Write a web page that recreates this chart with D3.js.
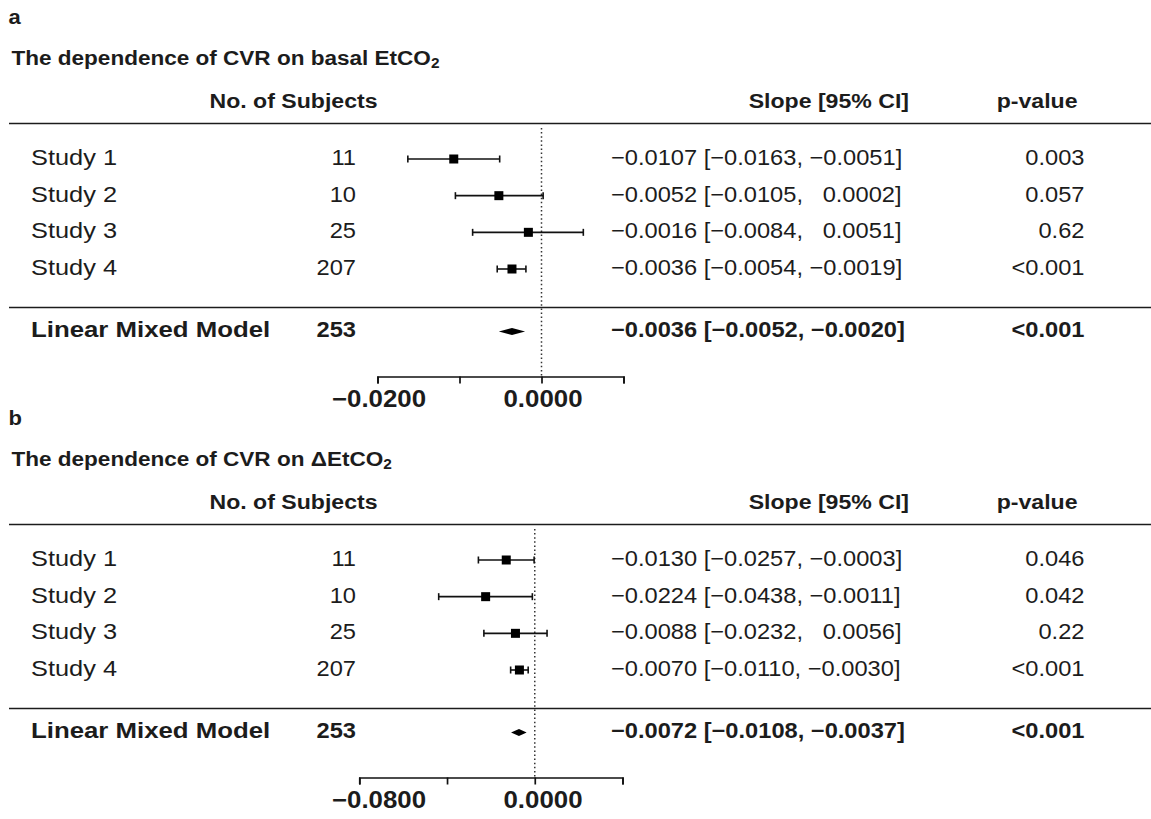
<!DOCTYPE html>
<html>
<head>
<meta charset="utf-8"/>
<script src="https://d3js.org/d3.v7.min.js"></script>
<style>
  body { margin: 0; background: #fff; }
  text { font-family: "Liberation Sans", Arial, sans-serif; fill: #1c1c1c; white-space: pre; }
</style>
</head>
<body>
<svg id="chart" width="1151" height="819"></svg>
<script>
// ---- data ----
let studies = ["Study 1", "Study 2", "Study 3", "Study 4"];
let nSubjects = [11, 10, 25, 207];

// panel a: CVR vs basal EtCO2
let slopeA = [-0.0107, -0.0052, -0.0016, -0.0036];
let lowA   = [-0.0163, -0.0105, -0.0084, -0.0054];
let highA  = [-0.0051,  0.0002,  0.0051, -0.0019];
let pA     = ["0.003", "0.057", "0.62", "<0.001"];
let pooledA = [-0.0036, -0.0052, -0.0020];   // estimate, low, high
let pooledPA = "<0.001";
let ticksA = [-0.02, -0.01, 0, 0.01];
let tickLabelsA = [-0.02, 0];

// panel b: CVR vs delta EtCO2
let slopeB = [-0.0130, -0.0224, -0.0088, -0.0070];
let lowB   = [-0.0257, -0.0438, -0.0232, -0.0110];
let highB  = [-0.0003, -0.0011,  0.0056, -0.0030];
let pB     = ["0.046", "0.042", "0.22", "<0.001"];
let pooledB = [-0.0072, -0.0108, -0.0037];
let pooledPB = "<0.001";
let ticksB = [-0.08, -0.04, 0, 0.04];

let pooledLabel = "Linear Mixed Model";
let pooledN = 253;

// ---- drawing ----
let svg = d3.select("#chart");
let SX = 1.1;  // the original text is a bit wide
let f4 = d3.format(".4f");
function num(v) { return v < 0 ? f4(v) : "  " + f4(v); }

function addText(g, x, y, str, size, bold, anchor, sx) {
    return g.append("text")
        .attr("transform", "translate(" + x + "," + y + ") scale(" + (sx || SX) + ",1)")
        .attr("text-anchor", anchor || "start")
        .style("font-size", size + "px")
        .style("font-weight", bold ? "bold" : "normal")
        .text(str);
}

// x positions of the axis labels are shared by both panels (as in the original)
let xA = d3.scaleLinear().domain([-0.02, 0.01]).range([377.5, 623.5]);
let xB = d3.scaleLinear().domain([-0.08, 0.04]).range([359.3, 622.5]);
let labelX = tickLabelsA.map(v => xA(v));
let labelText = [["\u22120.0200", "0.0000"], ["\u22120.0800", "0.0000"]];

function panel(dy, letter, titleMain, x, slope, low, high, p, pooled, pooledP, ticks, labels) {
    let g = svg.append("g").attr("transform", "translate(0," + dy + ")");
    let yRow = d3.scaleLinear().domain([0, 3]).range([165, 275]);
    let yPool = 336.5;
    let mark = -6;
    let fs = 21.5;

    addText(g, 8.5, 24, letter, 20, true);
    let t = addText(g, 11.5, 65, titleMain, 20.5, true);
    t.append("tspan").text("2").style("font-size", "14px").attr("dy", 3);

    addText(g, 377.5, 108, "No. of Subjects", 21, true, "end");
    addText(g, 909, 108, "Slope [95% CI]", 21, true, "end");
    addText(g, 1077.5, 108, "p-value", 21, true, "end");

    g.append("line").attr("x1", 9).attr("x2", 1151).attr("y1", 123.5).attr("y2", 123.5)
        .style("stroke", "#1c1c1c").style("stroke-width", 1.7);
    g.append("line").attr("x1", 9).attr("x2", 1151).attr("y1", 307.5).attr("y2", 307.5)
        .style("stroke", "#1c1c1c").style("stroke-width", 1.7);

    // reference line at zero
    g.append("line").attr("x1", x(0)).attr("x2", x(0)).attr("y1", 128).attr("y2", 376.5)
        .style("stroke", "#333").style("stroke-width", 1.5).style("stroke-dasharray", "1.5 2.6");

    // study rows
    studies.forEach((s, i) => {
        let by = yRow(i);
        let cy = by + mark;
        addText(g, 31, by, s, fs, false, "start", 1.18);
        addText(g, 356, by, String(nSubjects[i]), fs, false, "end");
        addText(g, 611, by, num(slope[i]) + " [" + num(low[i]) + ", " + num(high[i]) + "]", fs, false);
        addText(g, 1084.5, by, p[i], fs, false, "end");

        g.append("line").attr("x1", x(low[i])).attr("x2", x(high[i])).attr("y1", cy).attr("y2", cy)
            .style("stroke", "#111").style("stroke-width", 1.6);
        [low[i], high[i]].forEach(v => {
            g.append("line").attr("x1", x(v)).attr("x2", x(v)).attr("y1", cy - 3.5).attr("y2", cy + 3.5)
                .style("stroke", "#111").style("stroke-width", 1.6);
        });
        g.append("rect").attr("x", x(slope[i]) - 4.5).attr("y", cy - 4.5)
            .attr("width", 9).attr("height", 9).style("fill", "#000");
    });

    // pooled row
    addText(g, 31, yPool, pooledLabel, fs, true, "start", 1.2);
    addText(g, 356, yPool, String(pooledN), fs, true, "end");
    addText(g, 611, yPool, num(pooled[0]) + " [" + num(pooled[1]) + ", " + num(pooled[2]) + "]", fs, true);
    addText(g, 1084.5, yPool, pooledP, fs, true, "end");
    let py = yPool - 5;
    g.append("path")
        .attr("d", "M" + x(pooled[1]) + "," + py + "L" + x(pooled[0]) + "," + (py - 3.5) +
                   "L" + x(pooled[2]) + "," + py + "L" + x(pooled[0]) + "," + (py + 3.5) + "Z")
        .style("fill", "#000");

    // axis
    let ax = g.append("g").attr("transform", "translate(0,376.5)")
        .call(d3.axisBottom(x).tickValues(ticks).tickSize(7).tickSizeOuter(7).tickFormat(""));
    ax.selectAll("path, line").style("stroke", "#111").style("stroke-width", 1.7);
    labelX.forEach((lx, i) => addText(g, lx + 1.5, 407, labels[i], 23.5, true, "middle"));
}

panel(0, "a", "The dependence of CVR on basal EtCO", xA, slopeA, lowA, highA, pA, pooledA, pooledPA, ticksA, labelText[0]);
panel(401, "b", "The dependence of CVR on \u0394EtCO", xB, slopeB, lowB, highB, pB, pooledB, pooledPB, ticksB, labelText[1]);
</script>
</body>
</html>
